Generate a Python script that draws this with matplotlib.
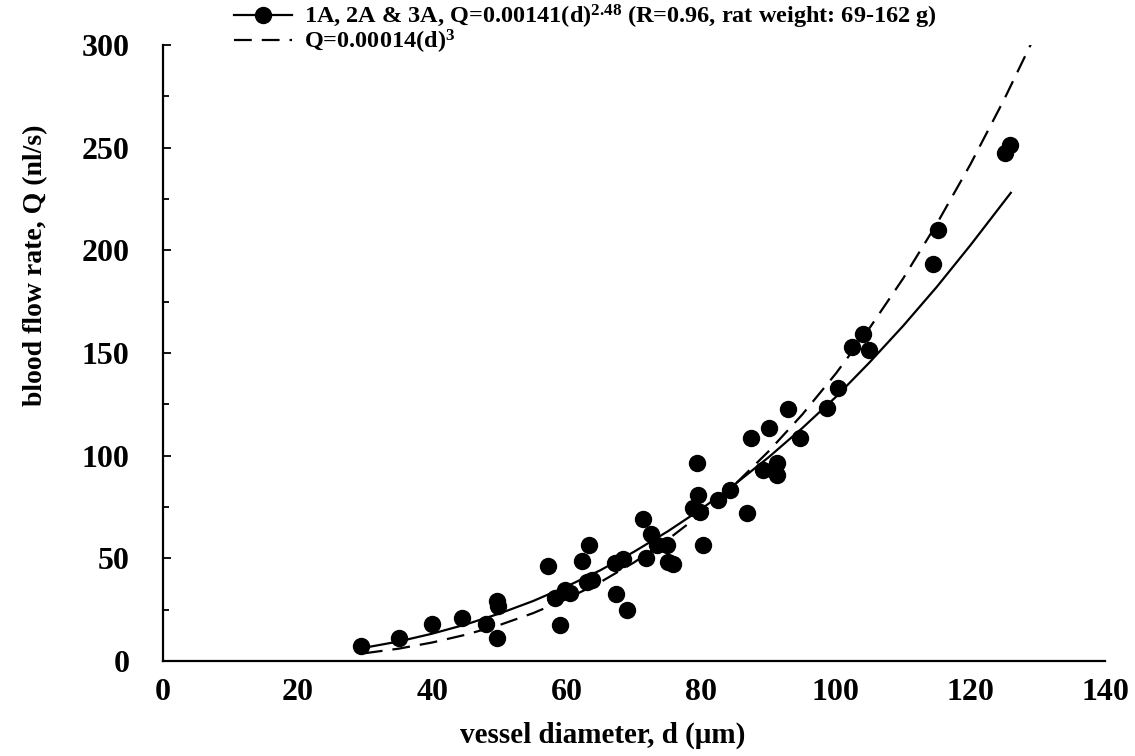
import numpy as np
import matplotlib
matplotlib.use("Agg")
from matplotlib import pyplot as plt
from matplotlib.lines import Line2D
from matplotlib.ticker import MultipleLocator

# measured vessels (diameter in um, flow in nl/s)
diam = [29.5, 35, 40, 44.5, 48, 49.6, 49.8, 49.6, 57.2, 58.2, 59, 59.7, 60.5,
        62.2, 63.3, 63.0, 63.8, 67.3, 68.9, 67.2, 68.4, 71.3, 72.5, 71.8, 73.4,
        74.9, 75.8, 75.0, 79.3, 79.5, 78.8, 79.8, 80.2, 82.5, 84.2, 86.8, 87.4,
        90.0, 92.9, 89.2, 91.2, 91.2, 94.7, 98.7, 100.3, 102.4, 104.0, 104.9,
        115.2, 114.4, 125.1, 125.9]
flow = [7.5, 11, 18, 21, 18, 29, 27, 11, 46.5, 30.7, 17.5, 34.6, 33,
        48.5, 56.5, 38.5, 39.5, 32.6, 25, 47.7, 49.5, 69, 62, 50, 56.5,
        56.5, 47, 48, 96.5, 81, 74.5, 72.6, 56.5, 78.4, 83.3, 72, 108.6,
        113.5, 122.7, 93, 96.4, 90.6, 108.6, 123.2, 133, 153, 159.3, 151.5,
        210, 193.4, 247.5, 251.5]

# fitted curve
fit_d = [30, 35, 40, 45, 50, 55, 60, 65, 70, 75, 80, 85, 90, 95, 100,
         105, 110, 115, 120, 126]
fit_q = [6.5, 9.5, 13.3, 17.8, 23.1, 29.2, 36.3, 44.2, 53.2, 63.1, 74.0,
         86.1, 99.2, 113.4, 128.6, 145.4, 163.2, 182.2, 202.5, 228]

# cubic law
cub_d = [30, 35, 40, 45, 50, 55, 60, 65, 70, 75, 80, 85, 90, 95, 100,
         105, 110, 115, 120, 125, 129]
cub_q = [3.8, 6.0, 9.0, 12.8, 17.5, 23.3, 30.2, 38.4, 48.0, 59.1, 71.7,
         86.0, 102.1, 120.0, 140.0, 162.1, 186.3, 212.9, 241.9, 273.4, 300.5]

label_fit = r"1A, 2A & 3A, Q=0.00141(d)$^{2.48}$ (R=0.96, rat weight: 69-162 g)"
label_cub = r"Q=0.00014(d)$^{3}$"

plt.rcParams['font.family'] = ['Liberation Serif', 'DejaVu Serif']
plt.rcParams['font.weight'] = 'bold'
plt.rcParams['axes.labelweight'] = 'bold'
plt.rcParams['mathtext.fontset'] = 'custom'
plt.rcParams['mathtext.rm'] = 'Liberation Serif:bold'
plt.rcParams['mathtext.default'] = 'rm'

fig = plt.figure(figsize=(11.35, 7.56), dpi=100)
ax = fig.add_axes([163/1135, 1-661/756, 942/1135, 616/756])

ax.plot(diam, flow, 'o', color='black', ms=11.5, zorder=3)
ax.plot(fit_d, fit_q, '-', color='black', lw=1.6)
ax.plot(cub_d, cub_q, color='black', lw=1.6, dashes=(8, 4.5))

ax.set_xlim(0, 140)
ax.set_ylim(0, 300)
ax.xaxis.set_major_locator(MultipleLocator(20))
ax.yaxis.set_major_locator(MultipleLocator(50))
ax.yaxis.set_minor_locator(MultipleLocator(25))
ax.tick_params(axis='y', which='both', direction='in', width=1.3)
ax.tick_params(axis='y', which='major', length=6, pad=24, labelsize=23)
ax.tick_params(axis='y', which='minor', length=4)
ax.tick_params(axis='x', length=0, pad=12, labelsize=23)
for s in ('top', 'right'):
    ax.spines[s].set_visible(False)
for s in ('left', 'bottom'):
    ax.spines[s].set_linewidth(1.6)

ax.set_xlabel(u"vessel diameter, d (\u03bcm)", fontsize=21)
ax.set_ylabel("blood flow rate, Q (nl/s)", fontsize=20)
ax.xaxis.set_label_coords(0.467, -0.098)
ax.yaxis.set_label_coords(-0.122, 0.643)

handles = [Line2D([], [], color='black', lw=1.6, marker='o', ms=11.5),
           Line2D([], [], color='black', lw=1.6, dashes=(8, 4.5))]
fig.legend(handles, [label_fit, label_cub], loc='upper left',
           bbox_to_anchor=(219/1135, 1.016), frameon=False, fontsize=17.5,
           handlelength=2.4, handletextpad=0.5, labelspacing=-0.1,
           borderaxespad=0.2)

fig.savefig("out.png", dpi=100)
